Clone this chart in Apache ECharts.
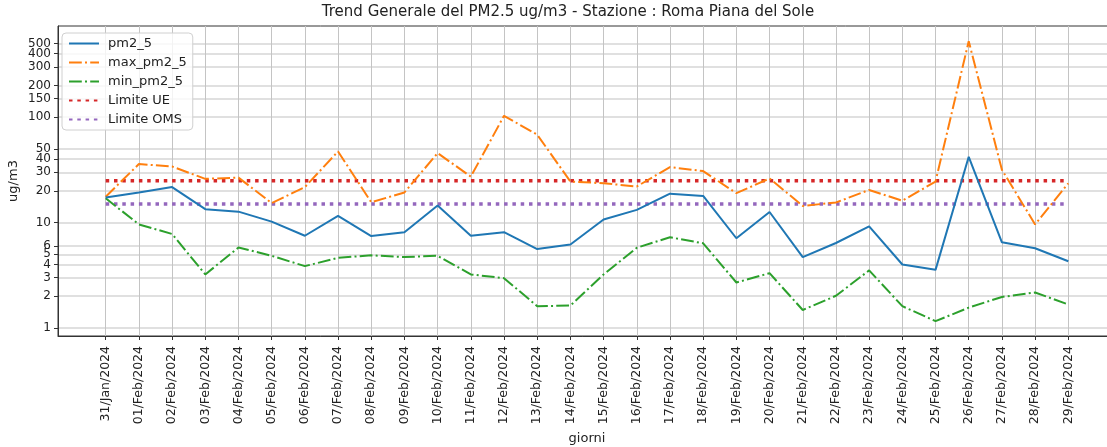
<!DOCTYPE html>
<html>
<head>
<meta charset="utf-8">
<script src="https://cdn.jsdelivr.net/npm/echarts@6/dist/echarts.min.js"></script>
<style>
  html, body { margin: 0; padding: 0; background: #fff; }
  #chart { width: 1107px; height: 447px; }
</style>
</head>
<body>
<div id="chart"></div>
<script>
// giorni
const categories = [
  '31/Jan/2024', '01/Feb/2024', '02/Feb/2024', '03/Feb/2024', '04/Feb/2024',
  '05/Feb/2024', '06/Feb/2024', '07/Feb/2024', '08/Feb/2024', '09/Feb/2024',
  '10/Feb/2024', '11/Feb/2024', '12/Feb/2024', '13/Feb/2024', '14/Feb/2024',
  '15/Feb/2024', '16/Feb/2024', '17/Feb/2024', '18/Feb/2024', '19/Feb/2024',
  '20/Feb/2024', '21/Feb/2024', '22/Feb/2024', '23/Feb/2024', '24/Feb/2024',
  '25/Feb/2024', '26/Feb/2024', '27/Feb/2024', '28/Feb/2024', '29/Feb/2024'
]

const pm25 = [
  17.3, 19.3, 21.7, 13.4, 12.7, 10.2, 7.5, 11.6, 7.45, 8.1,
  14.5, 7.5, 8.1, 5.6, 6.2, 10.7, 13.2, 18.8, 17.9, 7.1,
  12.6, 4.7, 6.4, 9.2, 4.0, 3.56, 42.1, 6.5, 5.7, 4.3
]

const maxPm25 = [
  17.6, 35.9, 34.0, 26.0, 26.7, 15.3, 21.7, 47.3, 15.6, 19.3,
  45.6, 27.3, 103, 68.2, 24.5, 23.6, 22.0, 33.6, 30.8, 19.0,
  26.2, 14.4, 15.5, 20.4, 16.1, 24.5, 526, 31.7, 9.6, 23.6
]

const minPm25 = [
  17.0, 9.6, 7.8, 3.22, 5.8, 4.84, 3.86, 4.63, 4.89, 4.71,
  4.84, 3.22, 2.97, 1.61, 1.63, 3.22, 5.77, 7.25, 6.36, 2.70,
  3.31, 1.48, 2.02, 3.52, 1.61, 1.16, 1.56, 1.97, 2.17, 1.67
]

const limiteUE = 25
const limiteOMS = 15

const yTicks = [1, 2, 3, 4, 5, 6, 10, 20, 30, 40, 50, 100, 150, 200, 300, 400, 500]
// 400 sits too close to 500, echarts drops it -> drawn on an overlay axis
const yTicksOverlay = [400]

const FONT = 'DejaVu Sans'
const Y_MIN = 0.839
const Y_MAX = 733
const dayIdx = categories.map((c, i) => i)
const toPoints = arr => arr.map((v, i) => [i, v])

const yLabelStyle = {
  margin: 7,
  fontFamily: FONT,
  fontSize: 12,
  color: '#222',
  showMaxLabel: true,
  showMinLabel: true,
  formatter: v => String(Math.round(v))
}

const chart = echarts.init(document.getElementById('chart'))

chart.setOption({
  animation: false,
  backgroundColor: '#fff',
  title: {
    text: 'Trend Generale del PM2.5 ug/m3 - Stazione : Roma Piana del Sole',
    left: 568,
    top: 5,
    textAlign: 'center',
    padding: 0,
    textStyle: { fontFamily: FONT, fontSize: 15, fontWeight: 'normal', color: '#222' }
  },
  grid: {
    left: 58,
    right: -9,
    top: 26,
    bottom: 111,
    show: true,
    borderColor: '#333',
    borderWidth: 1,
    containLabel: false,
    outerBoundsMode: 'none'
  },
  legend: {
    orient: 'vertical',
    left: 62,
    top: 33,
    padding: [4, 6],
    itemWidth: 30,
    itemHeight: 14,
    itemGap: 6,
    backgroundColor: 'rgba(255,255,255,0.8)',
    borderColor: '#d0d0d0',
    borderWidth: 1,
    borderRadius: 4,
    itemStyle: { opacity: 0 },
    textStyle: { fontFamily: FONT, fontSize: 13, color: '#222', padding: [0, 0, 0, 4] },
    data: ['pm2_5', 'max_pm2_5', 'min_pm2_5', 'Limite UE', 'Limite OMS']
  },
  xAxis: {
    type: 'value',
    min: -1.437,
    max: 30.437,
    name: 'giorni',
    nameLocation: 'middle',
    nameGap: 96,
    nameMoveOverlap: false,
    nameTextStyle: { fontFamily: FONT, fontSize: 13, color: '#222' },
    axisLine: { show: true, onZero: false, lineStyle: { color: '#333' } },
    axisTick: {
      show: true,
      length: 4,
      customValues: dayIdx,
      lineStyle: { color: '#333' }
    },
    axisLabel: {
      customValues: dayIdx,
      rotate: 90,
      margin: 10,
      fontFamily: FONT,
      fontSize: 12.5,
      color: '#222',
      formatter: v => categories[Math.round(v)] || ''
    },
    splitLine: { show: true, lineStyle: { color: '#c4c4c4', width: 1 } }
  },
  yAxis: [
    {
      type: 'log',
      logBase: 10,
      min: Y_MIN,
      max: Y_MAX,
      name: 'ug/m3',
      nameLocation: 'middle',
      nameGap: 38,
      nameRotate: 90,
      nameMoveOverlap: false,
      nameTextStyle: { fontFamily: FONT, fontSize: 13, color: '#222' },
      axisLine: { show: true, onZero: false, lineStyle: { color: '#333' } },
      axisTick: {
        show: true,
        length: 4,
        customValues: yTicks,
        lineStyle: { color: '#333' }
      },
      axisLabel: Object.assign({}, yLabelStyle, {
        customValues: yTicks.filter(v => yTicksOverlay.indexOf(v) < 0)
      }),
      splitLine: { show: true, lineStyle: { color: '#d6d6d6', width: 1.5 } }
    },
    {
      type: 'log',
      logBase: 10,
      min: Y_MIN,
      max: Y_MAX,
      position: 'left',
      offset: 0,
      axisLine: { show: false, onZero: false },
      axisTick: { show: false },
      axisLabel: Object.assign({}, yLabelStyle, { customValues: yTicksOverlay }),
      splitLine: { show: false }
    }
  ],
  series: [
    {
      name: 'pm2_5',
      type: 'line',
      symbol: 'none',
      data: toPoints(pm25),
      itemStyle: { color: '#1f77b4' },
      lineStyle: { color: '#1f77b4', width: 2 },
      z: 5
    },
    {
      name: 'max_pm2_5',
      type: 'line',
      symbol: 'none',
      data: toPoints(maxPm25),
      itemStyle: { color: '#ff7f0e' },
      lineStyle: { color: '#ff7f0e', width: 2, type: [12.8, 3.2, 2, 3.2], cap: 'butt' },
      z: 4
    },
    {
      name: 'min_pm2_5',
      type: 'line',
      symbol: 'none',
      data: toPoints(minPm25),
      itemStyle: { color: '#2ca02c' },
      lineStyle: { color: '#2ca02c', width: 2, type: [12.8, 3.2, 2, 3.2], cap: 'butt' },
      z: 4
    },
    {
      name: 'Limite UE',
      type: 'line',
      symbol: 'none',
      data: categories.map((c, i) => [i, limiteUE]),
      itemStyle: { color: '#d62728' },
      lineStyle: { color: '#d62728', width: 3.5, type: [3.5, 4.8], cap: 'butt' },
      z: 3
    },
    {
      name: 'Limite OMS',
      type: 'line',
      symbol: 'none',
      data: categories.map((c, i) => [i, limiteOMS]),
      itemStyle: { color: '#9467bd' },
      lineStyle: { color: '#9467bd', width: 3.5, type: [3.5, 4.8], cap: 'butt' },
      z: 3
    }
  ]
})
</script>
</body>
</html>
